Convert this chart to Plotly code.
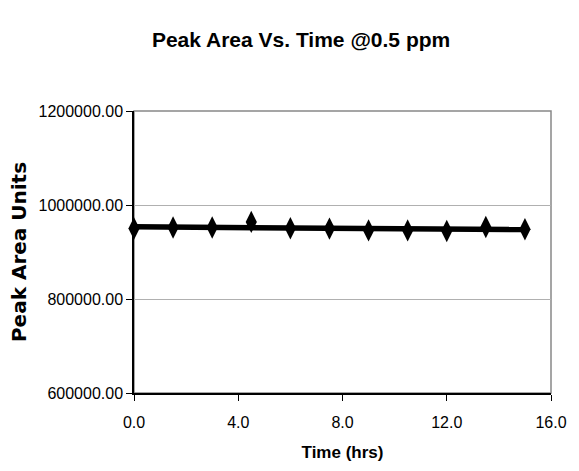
import numpy as np
import plotly.graph_objects as go

time_hrs = [0.0, 1.5, 3.0, 4.5, 6.0, 7.5, 9.0, 10.5, 12.0, 13.5, 15.0]
peak_area = [950000, 952000, 952000, 964000, 950500, 949800, 946000, 946000, 944700, 953200, 948400]

x_ticks = [0, 4, 8, 12, 16]
y_ticks = [600000, 800000, 1000000, 1200000]

slope, intercept = np.polyfit(time_hrs, peak_area, 1)
trend_x = [min(time_hrs), max(time_hrs)]
trend_y = [slope * v + intercept for v in trend_x]

fig = go.Figure()
fig.add_trace(go.Scatter(
    x=trend_x, y=trend_y, mode="lines",
    line=dict(color="black", width=5.5), hoverinfo="skip", showlegend=False,
    cliponaxis=False,
))
fig.add_trace(go.Scatter(
    x=time_hrs, y=peak_area, mode="markers",
    marker=dict(symbol="diamond-tall", size=16, color="black"),
    showlegend=False, cliponaxis=False,
))

tick_font = dict(family="Liberation Sans, Arial, sans-serif", size=16, color="black")

fig.update_layout(
    width=579, height=471,
    margin=dict(l=134, r=20, t=111, b=78),
    paper_bgcolor="white", plot_bgcolor="white",
    title=dict(
        text="<b>Peak Area Vs. Time @0.5 ppm</b>",
        x=0.52, xanchor="center", y=1 - 40 / 471, yanchor="middle",
        font=dict(family="Liberation Sans, sans-serif", size=21, color="black"),
    ),
    xaxis=dict(
        range=[0, 16], tickvals=x_ticks, ticktext=[f"{v:.1f}" for v in x_ticks],
        showline=True, linecolor="black", linewidth=1.5,
        ticks="outside", ticklen=6, tickcolor="black",
        showgrid=False, zeroline=False, tickfont=tick_font,
        ticklabelstandoff=8,
        title=dict(text="<b>Time (hrs)</b>", standoff=16,
                   font=dict(family="Liberation Sans, sans-serif", size=17, color="black")),
    ),
    yaxis=dict(
        range=[600000, 1200000], tickvals=y_ticks, ticktext=[f"{v:.2f}" for v in y_ticks],
        showline=True, linecolor="black", linewidth=1.5,
        ticks="outside", ticklen=6, tickcolor="black",
        showgrid=True, gridcolor="#b0b0b0", gridwidth=1, zeroline=False,
        tickfont=tick_font,
        title=dict(text="<b>Peak Area Units</b>", standoff=7,
                   font=dict(family="DejaVu Sans, sans-serif", size=20, color="black")),
    ),
    shapes=[dict(type="rect", xref="paper", yref="paper", x0=0, y0=0, x1=1, y1=1,
                 line=dict(color="#888888", width=1.5), layer="below")],
)

fig.write_html("out.html")
